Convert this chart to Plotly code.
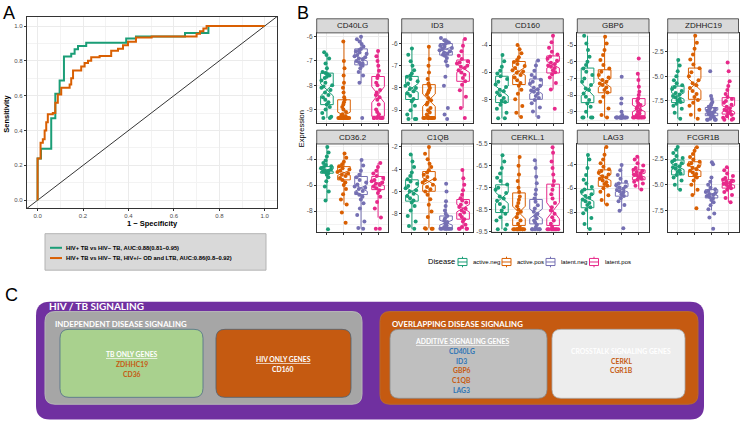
import plotly.graph_objects as go

W, H = 740, 423
FONT = "Liberation Sans, Arial, sans-serif"
CFONT = "Lato, Open Sans, sans-serif"

# ---------------- Panel A : ROC data ----------------
ROC1_NAME = "HIV+ TB vs HIV− TB, AUC:0.88(0.81−0.95)"
ROC2_NAME = "HIV+ TB vs HIV− TB, HIV+/− OD and LTB, AUC:0.86(0.8−0.92)"
ROC1_FPR = [0, 0, 0.015, 0.06, 0.078, 0.097, 0.116, 0.148, 0.163, 0.178, 0.214, 0.39, 0.433, 0.649, 0.752, 1.0]
ROC1_TPR = [0, 0.24, 0.296, 0.47, 0.611, 0.687, 0.825, 0.84, 0.866, 0.885, 0.904, 0.928, 0.94, 0.96, 1.0, 1.0]
ROC2_FPR = [0, 0, 0.013, 0.023, 0.031, 0.038, 0.045, 0.067, 0.078, 0.089, 0.104, 0.141, 0.148, 0.156, 0.192,
            0.207, 0.222, 0.236, 0.273, 0.324, 0.354, 0.376, 0.398, 0.433, 0.502, 0.70, 0.715, 0.73, 0.744, 1.0]
ROC2_TPR = [0, 0.24, 0.33, 0.35, 0.40, 0.447, 0.494, 0.50, 0.56, 0.607, 0.645, 0.664, 0.70, 0.745, 0.768,
            0.787, 0.80, 0.82, 0.828, 0.858, 0.87, 0.89, 0.909, 0.934, 0.94, 0.955, 0.97, 0.985, 1.0, 1.0]
CHANCE = [-0.1, 1.1]
ROC_TICKS = [0.0, 0.2, 0.4, 0.6, 0.8, 1.0]

# ---------------- Panel B : expression data ----------------
GENES = ["CD40LG", "ID3", "CD160", "GBP6", "ZDHHC19", "CD36.2", "C1QB", "CERKL.1", "LAG3", "FCGR1B"]
DISEASES = ["active.neg", "active.pos", "latent.neg", "latent.pos"]

Q1 = [[-8.8, -9.33, -7.16, -9.28], [-8.52, -9.3, -6.52, -7.7], [-8.24, -6.91, -8.0, -6.06],
      [-8.45, -7.86, -9.36, -9.24], [-7.67, -7.34, -9.0, -8.84], [-5.09, -5.6, -6.73, -6.35],
      [-6.87, -5.98, -9.3, -8.49], [-8.64, -9.23, -9.16, -9.23], [-7.64, -5.84, -6.67, -5.29],
      [-4.04, -4.2, -6.29, -5.33]]
MEDIAN = [[-8.19, -9.25, -6.89, -8.39], [-8.0, -8.55, -6.25, -7.11], [-7.39, -5.93, -7.3, -5.45],
          [-7.66, -7.27, -9.35, -8.8], [-7.0, -5.84, -8.6, -8.3], [-4.85, -5.05, -6.22, -5.85],
          [-5.98, -5.1, -8.8, -7.5], [-7.97, -8.64, -8.7, -8.56], [-6.81, -5.1, -6.1, -4.9],
          [-3.25, -3.4, -5.9, -4.9]]
Q3 = [[-7.5, -8.6, -6.5, -7.64], [-7.48, -7.85, -6.0, -6.74], [-6.3, -5.21, -6.5, -4.8],
      [-6.38, -6.48, -9.3, -8.21], [-6.0, -4.17, -8.17, -7.17], [-4.58, -4.58, -5.34, -5.34],
      [-4.95, -4.21, -8.2, -6.72], [-7.37, -7.74, -8.04, -7.34], [-6.12, -4.46, -5.57, -4.46],
      [-2.6, -2.76, -5.48, -4.52]]
LOWER = [[-9.35, -9.35, -7.9, -9.35], [-9.4, -9.35, -7.0, -8.9], [-9.4, -9.3, -9.3, -7.27],
         [-9.35, -9.35, -9.35, -9.35], [-9.3, -9.3, -9.4, -9.4], [-7.18, -7.5, -9.35, -8.5],
         [-9.35, -9.3, -9.35, -9.35], [-9.4, -9.4, -9.4, -9.4], [-9.42, -7.36, -7.9, -6.1],
         [-5.5, -6.0, -7.5, -6.7]]
UPPER = [[-6.64, -6.2, -6.0, -6.59], [-6.22, -6.15, -5.75, -5.8], [-4.73, -4.0, -5.14, -3.32],
         [-4.44, -4.5, -9.2, -6.72], [-3.34, -0.9, -7.0, -5.5], [-3.07, -3.58, -4.08, -4.3],
         [-2.68, -2.0, -6.87, -4.06], [-6.02, -6.1, -6.24, -5.65], [-3.22, -2.54, -4.05, -3.36],
         [-1.32, -1.35, -4.3, -3.3]]
NOTCH = [[0.25, 0.14, 0.12, 0.33], [0.2, 0.28, 0.1, 0.19], [0.37, 0.3, 0.3, 0.25],
         [0.4, 0.27, 0.02, 0.2], [0.33, 0.6, 0.17, 0.33], [0.1, 0.2, 0.27, 0.2],
         [0.37, 0.34, 0.22, 0.34], [0.25, 0.29, 0.22, 0.37], [0.3, 0.26, 0.22, 0.17],
         [0.28, 0.28, 0.16, 0.16]]
Y_RANGES = [[-9.57, -5.84], [-9.59, -5.52], [-9.77, -3.1], [-9.69, -4.27], [-9.77, -0.6],
            [-9.64, -2.84], [-9.68, -1.73], [-9.55, -5.5], [-9.71, -2.29], [-9.65, -1.03]]
Y_TICKS = [[-9, -8, -7, -6], [-9, -8, -7, -6], [-8, -6, -4], [-9, -8, -7, -6, -5], [-7.5, -5.0, -2.5],
           [-8, -6, -4], [-8, -6, -4, -2], [-9.5, -8.5, -7.5, -6.5, -5.5], [-8, -6, -4], [-7.5, -5.0, -2.5]]
Y_TICKTEXT = [["-9", "-8", "-7", "-6"], ["-9", "-8", "-7", "-6"], ["-8", "-6", "-4"],
              ["-9", "-8", "-7", "-6", "-5"], ["-7.5", "-5.0", "-2.5"], ["-8", "-6", "-4"],
              ["-8", "-6", "-4", "-2"], ["-9.5", "-8.5", "-7.5", "-6.5", "-5.5"], ["-8", "-6", "-4"],
              ["-7.5", "-5.0", "-2.5"]]

PTS_CD40LG = [
    [-6.64, -6.75, -6.9, -7.1, -7.3, -7.45, -7.5, -7.55, -7.6, -7.65, -7.7, -7.8, -7.9, -8.0, -8.05, -8.1, -8.2,
     -8.3, -8.4, -8.5, -8.6, -8.7, -8.8, -8.9, -9.0, -9.15, -9.3, -9.35, -9.35],
    [-6.2, -7.0, -7.3, -7.6, -7.9, -8.1, -8.3, -8.5, -8.6, -8.7, -8.8, -8.9, -9.0, -9.1, -9.2, -9.25, -9.3,
     -9.35, -9.35, -9.35, -9.35, -9.35, -9.35, -9.35, -9.35, -9.35, -9.35, -9.35, -9.35],
    [-6.0, -6.1, -6.2, -6.3, -6.4, -6.5, -6.55, -6.6, -6.65, -6.7, -6.75, -6.8, -6.85, -6.9, -6.95, -7.0,
     -7.05, -7.1, -7.15, -7.2, -7.3, -7.45, -7.6, -7.9, -9.35],
    [-6.59, -6.8, -7.0, -7.2, -7.4, -7.6, -7.7, -7.9, -8.0, -8.2, -8.3, -8.4, -8.5, -8.6, -8.8, -9.0, -9.1,
     -9.2, -9.3, -9.35, -9.35, -9.35, -9.35, -9.35, -9.35]]
PTS_ID3 = [
    [-6.22, -6.5, -6.8, -7.0, -7.2, -7.35, -7.45, -7.5, -7.6, -7.7, -7.8, -7.9, -8.0, -8.05, -8.15, -8.25,
     -8.35, -8.5, -8.6, -8.8, -9.0, -9.2, -9.4, -9.4, -9.4],
    [-6.15, -6.7, -7.0, -7.3, -7.6, -7.8, -7.9, -8.0, -8.1, -8.2, -8.3, -8.45, -8.55, -8.65, -8.75, -8.9,
     -9.0, -9.1, -9.2, -9.3, -9.35, -9.35, -9.35, -9.35, -9.35, -9.35, -9.35, -9.35],
    [-5.75, -5.85, -5.9, -5.95, -6.0, -6.05, -6.1, -6.15, -6.2, -6.25, -6.3, -6.35, -6.4, -6.45, -6.5,
     -6.55, -6.65, -6.8, -7.0, -7.5, -7.9, -8.9, -9.2, -9.4],
    [-5.8, -6.1, -6.35, -6.55, -6.7, -6.8, -6.85, -6.9, -7.0, -7.05, -7.1, -7.2, -7.3, -7.4, -7.55, -7.7,
     -7.85, -8.1, -8.4, -8.9, -9.35]]
PTS_CD160 = [
    [-4.73, -5.2, -5.6, -5.9, -6.1, -6.3, -6.5, -6.7, -6.9, -7.1, -7.3, -7.4, -7.5, -7.7, -7.9, -8.1, -8.2,
     -8.4, -8.7, -9.0, -9.4, -9.4],
    [-4.0, -4.3, -4.6, -4.9, -5.1, -5.25, -5.4, -5.55, -5.7, -5.85, -5.95, -6.05, -6.2, -6.4, -6.6, -6.8,
     -7.0, -7.3, -7.6, -8.0, -8.5, -9.0, -9.3],
    [-5.14, -5.5, -5.9, -6.2, -6.4, -6.55, -6.7, -6.85, -7.0, -7.15, -7.25, -7.35, -7.45, -7.6, -7.75, -7.9,
     -8.05, -8.3, -8.6, -8.9, -9.3],
    [-3.32, -3.8, -4.2, -4.5, -4.7, -4.85, -5.0, -5.15, -5.3, -5.4, -5.5, -5.6, -5.7, -5.85, -6.0, -6.15,
     -6.4, -6.8, -7.27, -8.7]]
PTS_GBP6 = [
    [-4.44, -4.9, -5.3, -5.7, -6.0, -6.2, -6.4, -6.6, -6.8, -7.0, -7.2, -7.4, -7.6, -7.7, -7.9, -8.1, -8.3,
     -8.5, -8.7, -9.0, -9.35, -9.35, -9.35, -9.35],
    [-4.5, -4.9, -5.3, -5.6, -5.9, -6.2, -6.4, -6.6, -6.8, -6.95, -7.1, -7.2, -7.3, -7.4, -7.55, -7.7, -7.85,
     -8.1, -8.4, -8.8, -9.2, -9.35],
    [-6.9, -8.2, -8.5, -9.0, -9.2, -9.35, -9.35, -9.35, -9.35, -9.35, -9.35, -9.35, -9.35, -9.35, -9.35,
     -9.35, -9.35, -9.35, -9.35, -9.35],
    [-5.8, -6.72, -7.1, -7.5, -7.8, -8.0, -8.2, -8.35, -8.5, -8.6, -8.7, -8.8, -8.9, -9.0, -9.1, -9.2, -9.3,
     -9.35, -9.35, -9.35, -9.35, -9.35, -9.35, -9.35, -9.35]]
PTS_ZDHHC19 = [
    [-3.34, -3.9, -4.5, -5.0, -5.4, -5.7, -5.9, -6.1, -6.3, -6.5, -6.7, -6.85, -7.0, -7.15, -7.3, -7.45,
     -7.6, -7.8, -8.0, -8.3, -8.7, -9.3],
    [-0.9, -1.6, -2.2, -2.8, -3.3, -3.8, -4.2, -4.6, -5.0, -5.4, -5.7, -5.9, -6.2, -6.5, -6.8, -7.1, -7.4,
     -7.7, -8.0, -8.4, -8.9, -9.3],
    [-4.5, -7.0, -7.3, -7.6, -7.8, -7.95, -8.1, -8.2, -8.3, -8.4, -8.5, -8.6, -8.65, -8.7, -8.8, -8.9, -9.0,
     -9.1, -9.2, -9.3, -9.4, -9.4, -9.4, -9.4],
    [-3.6, -4.5, -5.5, -6.0, -6.4, -6.8, -7.1, -7.3, -7.5, -7.7, -7.9, -8.1, -8.25, -8.4, -8.5, -8.6, -8.75,
     -8.9, -9.05, -9.2, -9.3, -9.4, -9.4]]
PTS_CD36 = [
    [-3.07, -3.5, -3.8, -4.1, -4.3, -4.45, -4.55, -4.6, -4.7, -4.8, -4.85, -4.9, -4.95, -5.0, -5.1, -5.2,
     -5.4, -5.7, -6.1, -6.5, -7.18, -9.4],
    [-3.58, -3.9, -4.2, -4.4, -4.55, -4.7, -4.8, -4.9, -5.0, -5.1, -5.2, -5.3, -5.45, -5.6, -5.8, -6.0, -6.3,
     -6.7, -7.1, -7.5, -8.1, -8.9],
    [-4.08, -4.5, -4.9, -5.2, -5.4, -5.6, -5.8, -5.95, -6.1, -6.2, -6.3, -6.45, -6.6, -6.75, -6.9, -7.1,
     -7.4, -7.8, -8.3, -8.8, -9.3, -9.35],
    [-4.3, -4.6, -4.9, -5.1, -5.3, -5.45, -5.6, -5.7, -5.8, -5.9, -6.0, -6.1, -6.25, -6.4, -6.6, -6.9, -7.3,
     -7.8, -8.5, -9.35, -9.35]]
PTS_C1QB = [
    [-2.68, -3.3, -3.8, -4.3, -4.6, -4.9, -5.1, -5.3, -5.5, -5.7, -5.9, -6.0, -6.2, -6.4, -6.6, -6.8, -7.0,
     -7.3, -7.7, -8.2, -8.7, -9.1, -9.35],
    [-2.0, -2.6, -3.1, -3.5, -3.8, -4.1, -4.3, -4.5, -4.7, -4.9, -5.0, -5.2, -5.4, -5.6, -5.8, -6.0, -6.3,
     -6.7, -7.2, -7.8, -8.3, -9.3, -9.35, -9.35, -9.35],
    [-5.3, -6.0, -6.87, -7.3, -7.7, -8.0, -8.2, -8.4, -8.6, -8.75, -8.9, -9.05, -9.2, -9.3, -9.35, -9.35,
     -9.35, -9.35, -9.35, -9.35, -9.35, -9.35],
    [-4.06, -4.8, -5.4, -5.9, -6.3, -6.6, -6.8, -7.0, -7.2, -7.4, -7.55, -7.7, -7.9, -8.1, -8.3, -8.5, -8.7,
     -9.0, -9.2, -9.35, -9.35, -9.35, -9.35]]
PTS_CERKL = [
    [-6.02, -6.3, -6.6, -6.85, -7.05, -7.2, -7.35, -7.5, -7.6, -7.75, -7.9, -8.0, -8.1, -8.25, -8.4, -8.55,
     -8.7, -8.85, -9.0, -9.2, -9.4, -9.4],
    [-6.1, -6.5, -6.9, -7.2, -7.5, -7.7, -7.9, -8.05, -8.2, -8.35, -8.5, -8.6, -8.7, -8.85, -9.0, -9.15,
     -9.3, -9.4, -9.4, -9.4, -9.4, -9.4, -9.4, -9.4, -9.4, -9.4, -9.4],
    [-6.24, -6.6, -7.0, -7.3, -7.6, -7.8, -8.0, -8.15, -8.3, -8.45, -8.6, -8.7, -8.8, -8.9, -9.0, -9.1,
     -9.2, -9.3, -9.4, -9.4, -9.4, -9.4, -9.4, -9.4],
    [-5.65, -5.9, -6.3, -6.6, -6.9, -7.2, -7.4, -7.6, -7.8, -8.0, -8.2, -8.4, -8.55, -8.7, -8.85, -9.0,
     -9.15, -9.3, -9.4, -9.4, -9.4, -9.4, -9.4, -9.4, -9.4, -9.4]]
PTS_LAG3 = [
    [-3.22, -3.6, -4.3, -4.9, -5.3, -5.6, -5.9, -6.1, -6.3, -6.5, -6.65, -6.8, -6.95, -7.1, -7.25, -7.4,
     -7.6, -7.8, -8.1, -8.5, -9.0, -9.42],
    [-2.54, -3.2, -3.6, -3.9, -4.2, -4.4, -4.55, -4.7, -4.85, -5.0, -5.1, -5.2, -5.35, -5.5, -5.65, -5.8,
     -6.0, -6.3, -6.6, -7.0, -7.36],
    [-4.05, -4.5, -4.9, -5.2, -5.45, -5.6, -5.75, -5.85, -5.95, -6.05, -6.15, -6.25, -6.35, -6.5, -6.65,
     -6.85, -7.1, -7.4, -7.9, -9.35],
    [-3.36, -3.6, -3.9, -4.1, -4.3, -4.45, -4.55, -4.65, -4.75, -4.85, -4.9, -5.0, -5.1, -5.2, -5.3, -5.45,
     -5.6, -5.8, -6.1]]
PTS_FCGR1B = [
    [-1.32, -1.6, -1.9, -2.2, -2.4, -2.6, -2.75, -2.9, -3.05, -3.2, -3.3, -3.45, -3.6, -3.75, -3.9, -4.05,
     -4.3, -4.6, -5.0, -5.5],
    [-1.35, -1.7, -2.0, -2.3, -2.55, -2.75, -2.9, -3.05, -3.2, -3.35, -3.5, -3.65, -3.8, -3.95, -4.1, -4.3,
     -4.6, -5.0, -5.5, -6.0, -7.3],
    [-2.8, -3.0, -4.3, -4.7, -5.0, -5.3, -5.45, -5.6, -5.7, -5.8, -5.9, -6.0, -6.1, -6.2, -6.35, -6.5, -6.7,
     -7.0, -7.4, -7.8, -8.2, -9.3],
    [-3.3, -3.6, -3.9, -4.15, -4.35, -4.5, -4.6, -4.7, -4.8, -4.9, -5.0, -5.1, -5.2, -5.35, -5.5, -5.7,
     -6.0, -6.3, -6.7]]

# ---------------- Panel C : diagram text ----------------
C_TITLE = "HIV / TB SIGNALING"
C_INDEP = "INDEPENDENT DISEASE SIGNALING"
C_OVERLAP = "OVERLAPPING DISEASE SIGNALING"
TB_HEAD, TB_GENES = "TB ONLY GENES", ["ZDHHC19", "CD36"]
HIV_HEAD, HIV_GENES = "HIV ONLY GENES", ["CD160"]
ADD_HEAD, ADD_GENES = "ADDITIVE SIGNALING GENES", ["CD40LG", "ID3", "GBP6", "C1QB", "LAG3"]
CROSS_HEAD, CROSS_GENES = "CROSSTALK SIGNALING GENES", ["CERKL", "CGR1B"]

# =====================================================================
COLORS = ["#1B9E77", "#D95F02", "#7570B3", "#E7298A"]
POINTS = [PTS_CD40LG, PTS_ID3, PTS_CD160, PTS_GBP6, PTS_ZDHHC19, PTS_CD36, PTS_C1QB, PTS_CERKL,
          PTS_LAG3, PTS_FCGR1B]


def fx(x):
    return x / W


def fy(y):
    return 1 - y / H


fig = go.Figure()
layout = dict(width=W, height=H, autosize=False, margin=dict(l=0, r=0, t=0, b=0),
              paper_bgcolor="white", plot_bgcolor="white", boxmode="overlay",
              font=dict(family=FONT, color="#000"), showlegend=False)

# ---- Panel A ----
fig.add_trace(go.Scatter(x=CHANCE, y=CHANCE, mode="lines", line=dict(color="black", width=0.8),
                         hoverinfo="skip", xaxis="x", yaxis="y"))
fig.add_trace(go.Scatter(x=ROC1_FPR, y=ROC1_TPR, mode="lines", line=dict(color=COLORS[0], width=2, shape="hv"),
                         name=ROC1_NAME, xaxis="x", yaxis="y"))
fig.add_trace(go.Scatter(x=ROC2_FPR, y=ROC2_TPR, mode="lines", line=dict(color=COLORS[1], width=2, shape="hv"),
                         name=ROC2_NAME, xaxis="x", yaxis="y"))

axis_common = dict(showline=True, mirror=True, linecolor="#333333", linewidth=0.8, ticks="outside",
                   ticklen=2, tickcolor="#333333", tickwidth=0.6, gridcolor="#ebebeb", gridwidth=0.7,
                   zeroline=False, tickfont=dict(size=6, color="#4d4d4d", family=FONT))
layout["xaxis"] = dict(axis_common, domain=[fx(26.7), fx(277)], range=[-0.048, 1.054], anchor="y",
                       tickvals=ROC_TICKS, tickformat=".1f",
                       minor=dict(dtick=0.1, tick0=0.1, showgrid=True, gridcolor="#f3f3f3", gridwidth=0.5))
layout["yaxis"] = dict(axis_common, domain=[fy(207), fy(13.3)], range=[-0.045, 1.051], anchor="x",
                       tickvals=ROC_TICKS, tickformat=".1f",
                       minor=dict(dtick=0.1, tick0=0.1, showgrid=True, gridcolor="#f3f3f3", gridwidth=0.5))

# ---- Panel B ----
COLS = [(316.7, 388.3), (401.7, 473.3), (491.7, 563.3), (577.3, 649.0), (667.7, 738.5)]
ROWS = [(29.3, 121.0), (142.0, 231.7)]
STRIPS = [(15.0, 29.3), (128.0, 142.0)]
shapes = []
annotations = []

for k, gene in enumerate(GENES):
    r, c = divmod(k, 5)
    n = k + 2
    xa, ya = f"x{n}", f"y{n}"
    for j, dis in enumerate(DISEASES):
        vals = POINTS[k][j]
        fig.add_trace(go.Box(x=[j + 1] * len(vals), y=vals, boxpoints="all", jitter=1.0, pointpos=0,
                             width=0.78, line=dict(width=0, color=COLORS[j]), fillcolor="rgba(0,0,0,0)",
                             marker=dict(color=COLORS[j], size=4), hoverinfo="skip",
                             name=dis, xaxis=xa, yaxis=ya))
    for j, dis in enumerate(DISEASES):
        fig.add_trace(go.Box(x=[j + 1], q1=[Q1[k][j]], median=[MEDIAN[k][j]], q3=[Q3[k][j]],
                             lowerfence=[LOWER[k][j]], upperfence=[UPPER[k][j]], notchspan=[NOTCH[k][j]],
                             notched=True, notchwidth=0.5, width=0.74, whiskerwidth=0, boxpoints=False,
                             line=dict(color=COLORS[j], width=1), fillcolor="rgba(255,255,255,0)",
                             name=dis, xaxis=xa, yaxis=ya))
    ticks = Y_TICKS[k]
    step = ticks[1] - ticks[0]
    mids = [ticks[0] - step / 2] + [t + step / 2 for t in ticks]
    layout[f"xaxis{n}"] = dict(axis_common, domain=[fx(COLS[c][0]), fx(COLS[c][1])], anchor=ya,
                               range=[0.4, 4.6], tickvals=[1, 2, 3, 4], showticklabels=False)
    layout[f"yaxis{n}"] = dict(axis_common, domain=[fy(ROWS[r][1]), fy(ROWS[r][0])], anchor=xa,
                               range=Y_RANGES[k], tickvals=ticks, ticktext=Y_TICKTEXT[k],
                               tickfont=dict(size=6.5, color="#4d4d4d", family=FONT),
                               minor=dict(tickmode="array", tickvals=mids, showgrid=True,
                                          gridcolor="#f3f3f3", gridwidth=0.5))
    shapes.append(dict(type="rect", xref="paper", yref="paper", x0=fx(COLS[c][0]), x1=fx(COLS[c][1]),
                       y0=fy(STRIPS[r][1]), y1=fy(STRIPS[r][0]), fillcolor="#d9d9d9",
                       line=dict(color="#333333", width=0.8), layer="above"))
    annotations.append(dict(text=gene, xref="paper", yref="paper", x=fx((COLS[c][0] + COLS[c][1]) / 2),
                            y=fy((STRIPS[r][0] + STRIPS[r][1]) / 2), showarrow=False, xanchor="center",
                            yanchor="middle", font=dict(size=8, color="#1a1a1a", family=FONT)))

# ---- axis titles & panel letters ----
extra = [
    dict(text="<b>1 − Specificity</b>", x=fx(152), y=fy(222.5), font=dict(size=7.5)),
    dict(text="<b>Sensitivity</b>", x=fx(6.3), y=fy(111), textangle=-90, font=dict(size=7.5)),
    dict(text="Expression", x=fx(301), y=fy(127), textangle=-90, font=dict(size=7.5)),
    dict(text="A", x=fx(8.5), y=fy(9.5), font=dict(size=18)),
    dict(text="B", x=fx(303), y=fy(9.5), font=dict(size=18)),
    dict(text="C", x=fx(11), y=fy(295), font=dict(size=18)),
]
for a in extra:
    a.update(xref="paper", yref="paper", showarrow=False, xanchor="center", yanchor="middle")
    a["font"].update(family=FONT, color="#000")
annotations += extra

# ---- legend of panel A (ROC) ----
shapes.append(dict(type="rect", xref="paper", yref="paper", x0=fx(45), x1=fx(266), y0=fy(270), y1=fy(233),
                   fillcolor="#d9d9d9", line=dict(color="#b3b3b3", width=1), layer="above"))
for i, (nm, col) in enumerate([(ROC1_NAME, COLORS[0]), (ROC2_NAME, COLORS[1])]):
    yy = 247.3 + 10.4 * i
    shapes.append(dict(type="line", xref="paper", yref="paper", x0=fx(50), x1=fx(62), y0=fy(yy), y1=fy(yy),
                       line=dict(color=col, width=2), layer="above"))
    annotations.append(dict(text=f"<b>{nm}</b>", xref="paper", yref="paper", x=fx(64), y=fy(yy),
                            showarrow=False, xanchor="left", yanchor="middle",
                            font=dict(size=5.8, family=FONT, color="#000")))

# ---- legend of panel B (Disease) ----
annotations.append(dict(text="Disease", xref="paper", yref="paper", x=fx(426), y=fy(261.7), showarrow=False,
                        xanchor="left", yanchor="middle", font=dict(size=7.5, family=FONT, color="#000")))
KEY_X = [462.5, 506.5, 550.5, 594.0]
for j, dis in enumerate(DISEASES):
    cx, cy = KEY_X[j], 261.7
    col = COLORS[j]
    shapes.append(dict(type="rect", xref="paper", yref="paper", x0=fx(cx - 4.5), x1=fx(cx + 4.5),
                       y0=fy(cy + 3.6), y1=fy(cy - 3.6), fillcolor="white", line=dict(color=col, width=1)))
    for (ya0, ya1) in [(cy - 5.4, cy - 3.6), (cy + 3.6, cy + 5.4)]:
        shapes.append(dict(type="line", xref="paper", yref="paper", x0=fx(cx), x1=fx(cx), y0=fy(ya0),
                           y1=fy(ya1), line=dict(color=col, width=1)))
    shapes.append(dict(type="line", xref="paper", yref="paper", x0=fx(cx - 4.5), x1=fx(cx + 4.5), y0=fy(cy),
                       y1=fy(cy), line=dict(color=col, width=1)))
    annotations.append(dict(text=dis, xref="paper", yref="paper", x=fx(cx + 8.5), y=fy(cy), showarrow=False,
                            xanchor="left", yanchor="middle", font=dict(size=6, family=FONT, color="#000")))


# ---- Panel C diagram ----
def rrect(x0, y0, x1, y1, r, fill, line=None, lw=0):
    pts = [("M", [(x0 + r, y0)]), ("L", [(x1 - r, y0)]), ("Q", [(x1, y0), (x1, y0 + r)]),
           ("L", [(x1, y1 - r)]), ("Q", [(x1, y1), (x1 - r, y1)]), ("L", [(x0 + r, y1)]),
           ("Q", [(x0, y1), (x0, y1 - r)]), ("L", [(x0, y0 + r)]), ("Q", [(x0, y0), (x0 + r, y0)])]
    path = " ".join(cmd + " " + " ".join(f"{fx(px):.5f},{fy(py):.5f}" for px, py in p) for cmd, p in pts) + " Z"
    return dict(type="path", xref="paper", yref="paper", path=path, fillcolor=fill,
                line=dict(color=line or fill, width=lw), layer="below")


shapes += [
    rrect(36, 302, 704, 421.5, 14, "#7030A0"),
    rrect(45, 312, 362, 406, 10, "#A6A6A6", "#b8b8b8", 1),
    rrect(60, 330, 203, 399, 9, "#A9D18E", "#4f7086", 0.8),
    rrect(216, 330, 351, 399, 9, "#C55A11", "#4f5f70", 0.8),
    rrect(380, 312, 698, 406, 10, "#C55A11", "#b86a30", 1),
    rrect(390, 330, 547, 400, 9, "#BFBFBF", "#8a8a8a", 0.8),
    rrect(552, 330, 685, 400, 9, "#EDEDED", "#a8a8a8", 0.8),
]


def ctext(text, x, y, size, color, anchor="center", under=False):
    return dict(text=f"<b>{text}</b>", xref="paper", yref="paper", x=fx(x), y=fy(y), showarrow=False,
                xanchor=anchor, yanchor="middle",
                font=dict(family=CFONT, size=size, color=color, lineposition="under" if under else "none"))


ORANGE_T, BLUE_T = "#C55A11", "#2E75B6"
annotations += [
    ctext(C_TITLE, 47, 306.5, 10, "white", "left"),
    ctext(C_INDEP, 53, 324.5, 7.8, "white", "left"),
    ctext(C_OVERLAP, 390, 325, 7.8, "white", "left"),
    ctext(TB_HEAD, 131.5, 355, 6.8, "white", under=True),
    ctext(HIV_HEAD, 283, 360, 6.8, "white", under=True),
    ctext(ADD_HEAD, 462, 342, 6.8, "white", under=True),
    ctext(CROSS_HEAD, 621, 352, 6.8, "white"),
]
for i, g in enumerate(TB_GENES):
    annotations.append(ctext(g, 131.5, 365 + 10 * i, 6.8, ORANGE_T))
for i, g in enumerate(HIV_GENES):
    annotations.append(ctext(g, 283, 370 + 10 * i, 6.8, "white"))
ADD_COLORS = [BLUE_T, BLUE_T, ORANGE_T, ORANGE_T, BLUE_T]
for i, g in enumerate(ADD_GENES):
    annotations.append(ctext(g, 462, 351.7 + 10 * i, 6.8, ADD_COLORS[i]))
for i, g in enumerate(CROSS_GENES):
    annotations.append(ctext(g, 621, 361.7 + 10 * i, 6.8, ORANGE_T))

layout["shapes"] = shapes
layout["annotations"] = annotations
fig.update_layout(**layout)
fig.write_html("out.html", config={"displayModeBar": False},
               post_script="document.body.style.margin='0';document.body.style.overflow='hidden';")
